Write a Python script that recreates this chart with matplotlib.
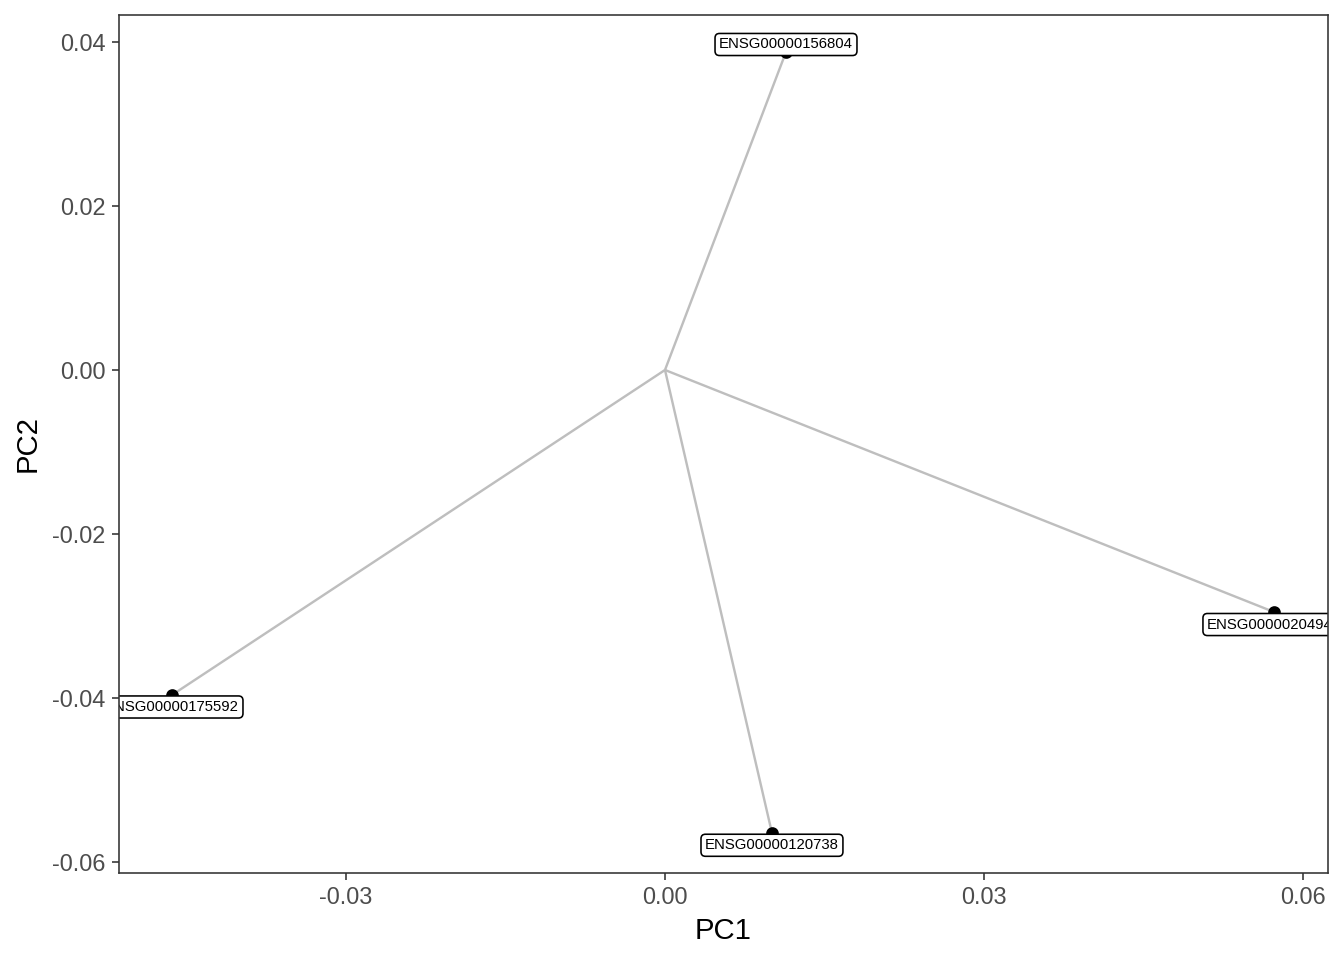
import matplotlib
matplotlib.use("Agg")
import matplotlib.pyplot as plt
from matplotlib.transforms import ScaledTranslation

plt.rcParams['font.family'] = ['Liberation Sans', 'DejaVu Sans']

genes = ["ENSG00000156804", "ENSG00000204941", "ENSG00000175592", "ENSG00000120738"]
pc1 = [0.01138, 0.05727, -0.04636, 0.01006]
pc2 = [0.03878, -0.02951, -0.03963, -0.05646]
label_dy_pt = [2.8, -4.7, -4.5, -4.6]

xticks = [-0.03, 0.00, 0.03, 0.06]
yticks = [-0.06, -0.04, -0.02, 0.00, 0.02, 0.04]

fig = plt.figure(figsize=(7, 5), dpi=192)
ax = fig.add_axes([0.0885, 0.0906, 0.8996, 0.8938])

for x, y in zip(pc1, pc2):
    ax.plot([0, x], [0, y], color="#BEBEBE", lw=0.9, zorder=1, solid_capstyle="butt")
ax.scatter(pc1, pc2, s=14, color="black", zorder=2)

for g, x, y, dy in zip(genes, pc1, pc2, label_dy_pt):
    tr = ax.transData + ScaledTranslation(0, dy / 72.0, fig.dpi_scale_trans)
    t = ax.text(x, y, g, transform=tr, ha="center", va="center", fontsize=5.6,
                color="black", zorder=3, clip_on=True,
                bbox=dict(boxstyle="round,pad=0.27,rounding_size=0.3", fc="white",
                          ec="black", lw=0.6))
    t.set_clip_path(ax.patch)
    t.get_bbox_patch().set_clip_path(ax.patch)
    t.get_bbox_patch().set_clip_on(True)

ax.set_xlim(-0.05135, 0.06235)
ax.set_ylim(-0.06134, 0.04329)
ax.set_xticks(xticks)
ax.set_xticklabels([f"{v:.2f}" for v in xticks])
ax.set_yticks(yticks)
ax.set_yticklabels([f"{v:.2f}" for v in yticks])
ax.tick_params(axis="both", length=2.75, width=0.6, color="#333333",
               labelsize=8.8, labelcolor="#4D4D4D", pad=2.2)
for s in ax.spines.values():
    s.set_color("#333333")
    s.set_linewidth(0.6)
    s.set_zorder(5)
ax.set_xlabel("PC1", fontsize=11, color="black", labelpad=3)
ax.set_ylabel("PC2", fontsize=11, color="black", labelpad=4)

fig.savefig("out.png", dpi=192)
